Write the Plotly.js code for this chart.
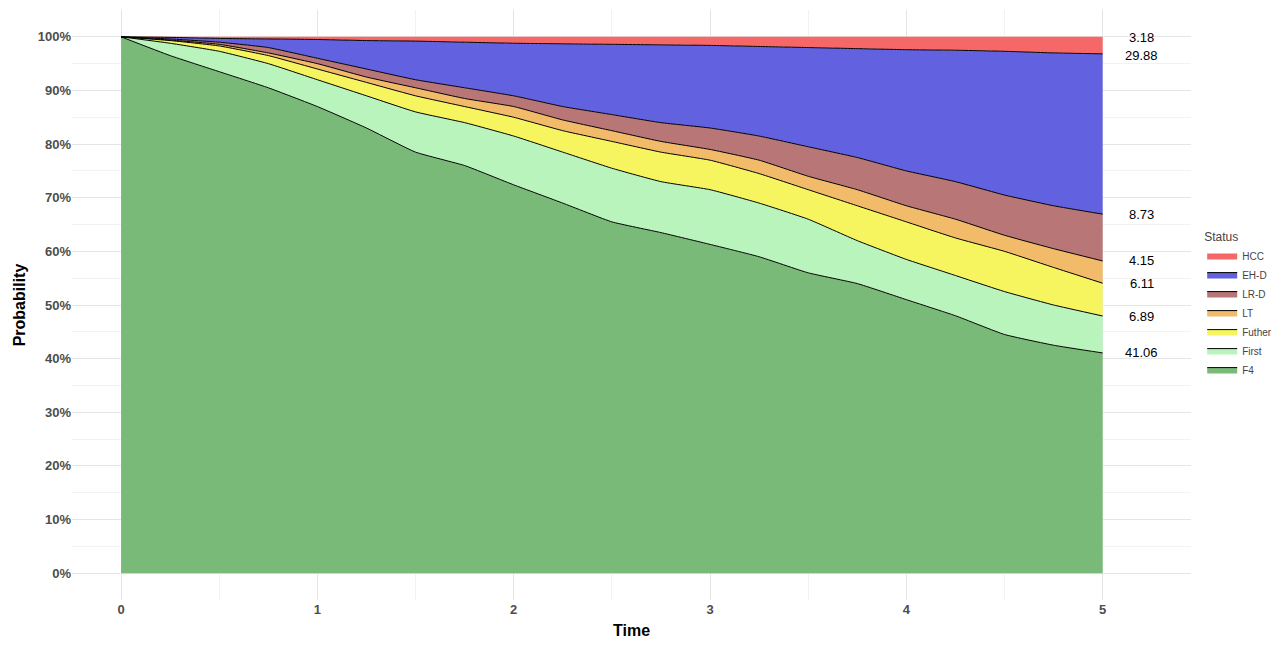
<!DOCTYPE html>
<html>
<head>
<script src="https://cdn.plot.ly/plotly-3.0.1.min.js"></script>
<style>body{margin:0}</style>
</head>
<body>
<div id="chart" style="width:1287px;height:645px"></div>
<script>
// time points and upper boundary of each stacked band (cumulative %)
let time = [0,0.25,0.5,0.75,1,1.25,1.5,1.75,2,2.25,2.5,2.75,3,3.25,3.5,3.75,4,4.25,4.5,4.75,5];
let topF4    = [100,96.5,93.5,90.5,87,83,78.5,76,72.4,69,65.5,63.5,61.3,59,56,54,51,48,44.5,42.5,41.06];
let topFirst = [100,98.8,97.3,95,92,89,86,84,81.5,78.5,75.5,73,71.5,69,66,62,58.5,55.5,52.5,50,47.95];
let topFuther= [100,99.3,98.3,96.5,94,91.5,89,87,85,82.5,80.5,78.5,77,74.5,71.5,68.5,65.5,62.5,60,57,54.06];
let topLT    = [100,99.4,98.6,97,95,92.5,90.5,88.5,87,84.5,82.5,80.5,79,77,74,71.5,68.5,66,63,60.5,58.21];
let topLRD   = [100,99.6,99,98,96,94,92,90.5,89,87,85.5,84,83,81.5,79.5,77.5,75,73,70.5,68.5,66.94];
let topEHD   = [100,99.9,99.7,99.6,99.5,99.3,99.2,99,98.8,98.7,98.6,98.5,98.4,98.2,98,97.8,97.6,97.5,97.3,97,96.82];
let topHCC   = time.map(() => 100);

let names  = ["F4","First","Futher","LT","LR-D","EH-D","HCC"];
let tops   = [topF4, topFirst, topFuther, topLT, topLRD, topEHD, topHCC];
let colors = ["#7aba78","#b8f4bb","#f6f560","#f2bb6a","#b87676","#6262e0","#f66767"];
let endLabels = ["41.06","6.89","6.11","4.15","8.73","29.88","3.18"];
let labelY = [41.06,47.95,54.06,58.21,66.94,96.5,99.8];

let traces = [];
let base = time.map(() => 0);
traces.push({x: time, y: base, mode: 'lines', line: {width: 0}, showlegend: false, hoverinfo: 'skip'});
for (let i in names) {
    traces.push({
        x: time, y: tops[i], name: names[i],
        mode: 'lines', fill: 'tonexty', fillcolor: colors[i],
        line: {color: i == 6 ? 'rgba(0,0,0,0)' : 'black', width: 1, shape: 'spline', smoothing: 0.4}
    });
}

let annotations = endLabels.map((t, i) => ({
    x: 5.2, y: labelY[i], text: t, showarrow: false, yanchor: 'middle',
    font: {size: 13, color: 'black', family: 'Arial'}
}));

Plotly.newPlot('chart', traces, {
    width: 1287, height: 645,
    margin: {l: 72, r: 81, t: 10, b: 45},
    paper_bgcolor: 'white', plot_bgcolor: 'white',
    font: {family: 'Arial'},
    xaxis: {
        range: [-0.25, 5.45], tickvals: [0,1,2,3,4,5], zeroline: false,
        gridcolor: '#e5e5e5', minor: {dtick: 0.5, tick0: 0, showgrid: true, gridcolor: '#f2f2f2'},
        tickfont: {size: 13, color: '#4d4d4d', weight: 'bold'},
        title: {text: 'Time', font: {size: 16, color: 'black', weight: 'bold'}, standoff: 8}
    },
    yaxis: {
        range: [-5, 105], tickvals: [0,10,20,30,40,50,60,70,80,90,100],
        ticktext: ['0%','10%','20%','30%','40%','50%','60%','70%','80%','90%','100%'],
        zeroline: false, gridcolor: '#e5e5e5',
        minor: {dtick: 5, tick0: 5, showgrid: true, gridcolor: '#f2f2f2'},
        tickfont: {size: 13, color: '#4d4d4d', weight: 'bold'},
        title: {text: 'Probability', font: {size: 16, color: 'black', weight: 'bold'}, standoff: 8}
    },
    legend: {
        x: 1.01, y: 0.5, xanchor: 'left', yanchor: 'middle', traceorder: 'reversed',
        title: {text: 'Status', font: {size: 12}}, font: {size: 10}, itemwidth: 30
    },
    annotations: annotations
}, {displayModeBar: false});
</script>
</body>
</html>
